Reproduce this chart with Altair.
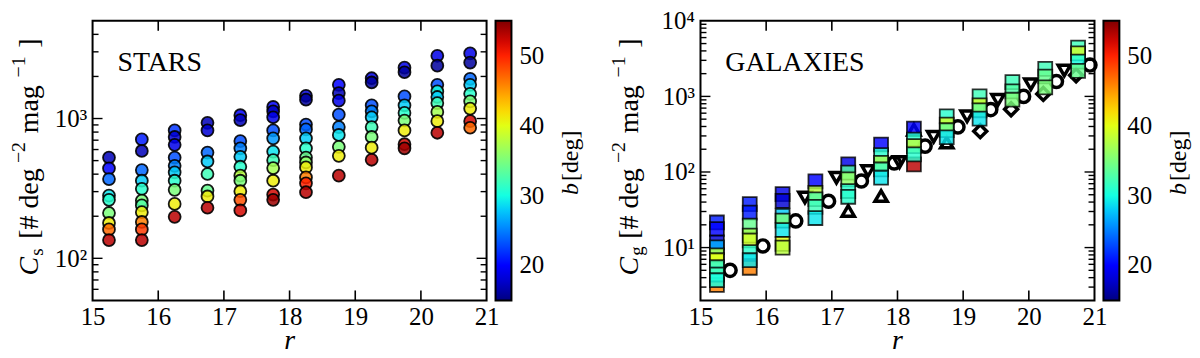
import altair as alt
import pandas as pd

FONT = "Liberation Serif"

# ---------------- data ----------------
r_bins = [15.25, 15.75, 16.25, 16.75, 17.25, 17.75, 18.25, 18.75, 19.25, 19.75, 20.25, 20.75]

stars_C = [
    [526, 440, 369, 281, 262, 211, 179, 161, 135],
    [709, 586, 428, 359, 314, 259, 239, 214, 182, 161, 135],
    [822, 738, 648, 526, 459, 412, 359, 309, 245, 198],
    [931, 822, 571, 493, 401, 305, 277, 230],
    [1056, 973, 690, 612, 532, 452, 390, 359, 302, 262, 220],
    [1210, 1127, 1021, 822, 722, 580, 504, 442, 359, 286, 262],
    [1455, 1364, 906, 836, 722, 612, 526, 485, 447, 379, 344, 297],
    [1742, 1520, 1342, 1067, 868, 763, 627, 541, 390],
    [1942, 1811, 1244, 1127, 1021, 868, 738, 619, 507],
    [2312, 2143, 1440, 1244, 1097, 968, 822, 655, 612],
    [2812, 2388, 1742, 1563, 1426, 1291, 1115, 957, 791],
    [2924, 2512, 1923, 1742, 1503, 1327, 1178, 957, 859],
]
stars_b = [
    [17, 20, 24, 29, 31, 35, 41, 47, 53],
    [21, 17, 24, 28, 31, 35, 33, 41, 46, 49, 53],
    [22, 18, 19, 23, 25, 28, 31, 35, 41, 53],
    [17, 18, 24, 28, 32, 34, 41, 53],
    [20, 17, 23, 25, 28, 31, 38, 35, 41, 48, 52],
    [20, 17, 19, 23, 26, 29, 32, 37, 41, 52, 54],
    [18, 16, 23, 24, 28, 31, 34, 36, 41, 46, 50, 53],
    [20, 17, 19, 23, 25, 29, 35, 41, 53],
    [19, 16, 23, 25, 28, 32, 35, 41, 53],
    [19, 16, 23, 28, 31, 35, 41, 52, 54],
    [19, 16, 23, 30, 28, 32, 37, 41, 53],
    [19, 16, 24, 28, 31, 35, 41, 52, 47],
]

gal_C = [
    [3.2, 21.5, 17.6, 11.7, 10.1, 7.9, 6.8, 5.5, 4.4, 3.7],
    [5.4, 37.6, 29, 19.5, 14.4, 12.4, 8.7, 6.8],
    [51, 41.5, 26.4, 22.7, 17, 11.2, 10],
    [75, 53, 43.6, 34.6, 24.6],
    [126, 98, 80, 56, 47],
    [231, 167, 132, 108, 84],
    [126, 375, 269, 220, 171],
    [546, 424, 357, 288],
    [1000, 762, 655, 508],
    [1545, 1164, 904],
    [2312, 1834, 1314],
    [4414, 3715, 2884, 2179],
]
gal_b = [
    [46, 21, 20, 18, 27, 38, 40, 31, 32, 30],
    [46, 21, 21, 34, 37, 39, 31, 29],
    [19, 18, 28, 35, 29, 40, 38],
    [20, 38, 33, 32, 29],
    [19, 33, 36, 31, 31],
    [20, 31, 37, 32, 29],
    [53, 20, 31, 38, 31],
    [31, 39, 34, 29],
    [32, 39, 34, 29],
    [32, 33, 35],
    [32, 34, 35],
    [32, 39, 30, 34],
]

lit_circle_r = [15.45, 15.95, 16.45, 16.95, 17.45, 17.95, 18.42, 18.92, 19.42, 19.92, 20.42, 20.93]
lit_circle_C = [5.0, 10.5, 22.5, 41, 76, 132, 220, 395, 670, 1000, 1575, 2600]
lit_tdown_r = [16.59, 17.07, 17.55, 18.03, 18.55, 19.06, 19.53, 20.03, 20.54]
lit_tdown_C = [46, 84, 103, 135, 293, 545, 900, 1450, 2200]
lit_tup_r = [17.25, 17.75, 18.25, 18.75]
lit_tup_C = [30.5, 48, 362, 245]
lit_diam_r = [19.26, 19.73, 20.22, 20.72]
lit_diam_C = [347, 675, 1080, 1900]

x_major = [16, 17, 18, 19, 20]
x_labels = [15, 16, 17, 18, 19, 20, 21]
stars_y_major = [100, 1000]
stars_y_minor = [60, 70, 80, 90, 200, 300, 400, 500, 600, 700, 800, 900, 2000, 3000, 4000]
gal_y_major = [10, 100, 1000]
gal_y_minor = [3, 4, 5, 6, 7, 8, 9, 20, 30, 40, 50, 60, 70, 80, 90,
               200, 300, 400, 500, 600, 700, 800, 900, 2000, 3000, 4000, 5000, 6000, 7000, 8000, 9000]

# jet colormap sampled on the colour-bar range 15..55
jet_stops = [15, 17.5, 20, 22.5, 25, 27.5, 30, 32.5, 35, 37.5, 40, 42.5, 45, 47.5, 50, 52.5, 55]
jet_colors = ["#000080", "#0000c8", "#0000ff", "#0040ff", "#0080ff", "#00bfff", "#14ffe2",
              "#48ffaf", "#7bff7b", "#afff48", "#e2ff14", "#ffd200", "#ff9700", "#ff5c00",
              "#ff2100", "#c80000", "#800000"]

# ---------------- frames ----------------
stars_df = pd.DataFrame({
    "r": [r_bins[i] for i, col in enumerate(stars_C) for _ in col],
    "C": [v for col in stars_C for v in col],
    "b": [v for col in stars_b for v in col],
})
gal_df = pd.DataFrame({
    "r": [r_bins[i] for i, col in enumerate(gal_C) for _ in col],
    "C": [v for col in gal_C for v in col],
    "b": [v for col in gal_b for v in col],
})

W, H = 396, 281
xscale = alt.Scale(domain=[15, 21], nice=False, zero=False)
cscale = alt.Scale(domain=jet_stops, range=jet_colors, interpolate="rgb")

SUP = "{'10': '\u00b9', '100': '\u00b2', '1000': '\u00b3', '10000': '\u2074'}"


def xaxis():
    return alt.Axis(values=x_labels, format="d", ticks=False, domain=False, grid=False,
                    labelFontSize=25, labelPadding=4, labelFlush=False, labelFont=FONT,
                    labelColor="black", title=None)


def yaxis(vals):
    return alt.Axis(values=vals, ticks=False, domain=False, grid=False, labelFontSize=25,
                    labelPadding=6, labelFlush=False, labelFont=FONT, labelColor="black",
                    labelExpr="'10' + " + SUP + "[toString(datum.value)]", title=None)


def legend():
    return alt.Legend(orient="none", legendX=405, legendY=0, direction="vertical",
                      gradientLength=H, gradientThickness=16, gradientStrokeColor="black",
                      gradientStrokeWidth=2, values=[20, 30, 40, 50], labelFontSize=25,
                      labelFont=FONT, labelColor="black", labelOffset=8, title=None,
                      padding=0, labelOverlap=False)


def one():
    return pd.DataFrame({"k": [0]})


def txt(t, x, y, size, style="normal", angle=0, align="left", baseline="alphabetic"):
    return alt.Chart(one()).mark_text(text=t, font=FONT, fontSize=size, fontStyle=style,
                                      angle=angle, align=align, baseline=baseline,
                                      color="black").encode(x=alt.value(x), y=alt.value(y))


TICK_COLOR = "black"


def tick_layers(ysc, yax, ymaj, ymin):
    """Inward ticks on all four sides of the frame (matplotlib classic style)."""
    layers = []
    xd = pd.DataFrame({"tx": x_major})
    for y0, y1 in [(H, H - 10), (0, 10)]:
        # segment rule: x and x2 from the same field, y / y2 in pixels
        layers.append(alt.Chart(xd).mark_rule(color=TICK_COLOR, strokeWidth=1.6).encode(
            x=alt.X("tx:Q", scale=xscale, axis=xaxis()), x2="tx:Q",
            y=alt.value(y0), y2=alt.value(y1)))
    for vals, L in [(ymaj, 10), (ymin, 6)]:
        yd = pd.DataFrame({"ty": vals})
        for x0, x1 in [(0, L), (W, W - L)]:
            layers.append(alt.Chart(yd).mark_rule(color=TICK_COLOR, strokeWidth=1.4).encode(
                y=alt.Y("ty:Q", scale=ysc, axis=yax),
                x=alt.value(x0), x2=alt.value(x1)))
    return layers


def ytitle(sub, base_x):
    sx = base_x - 13
    return [
        txt("C", base_x, 256, 28, "italic", 270),
        txt(sub, base_x + 5, 236, 19, "normal", 270),
        txt("[# deg", base_x, 219, 28, "normal", 270),
        txt("\u22122", sx, 143, 20, "normal", 270),
        txt("mag", base_x, 113, 28, "normal", 270),
        txt("\u22121", sx, 57, 20, "normal", 270),
        txt("]", base_x, 27, 28, "normal", 270),
    ]


# ---------------- left panel: stars ----------------
ys_scale = alt.Scale(type="log", domain=[50, 5000], nice=False)
ys_axis = yaxis(stars_y_major)
stars = alt.Chart(stars_df).mark_circle(size=144, stroke="black", strokeWidth=1.8,
                                        fillOpacity=0.85, strokeOpacity=0.9).encode(
    x=alt.X("r:Q", scale=xscale, axis=xaxis()),
    y=alt.Y("C:Q", scale=ys_scale, axis=ys_axis),
    color=alt.Color("b:Q", scale=cscale, legend=legend()),
)
left = alt.layer(
    stars,
    *tick_layers(ys_scale, ys_axis, stars_y_major, stars_y_minor),
    txt("STARS", 25, 50, 28),
    txt("r", W / 2, 330, 28, "italic", 0, "center"),
    *ytitle("s", -55),
    txt("b", 488, 175, 24, "italic", 270),
    txt("[deg]", 488, 161, 24, "normal", 270),
).properties(width=W, height=H)

# ---------------- right panel: galaxies ----------------
yg_scale = alt.Scale(type="log", domain=[2, 10000], nice=False)
yg_axis = yaxis([10, 100, 1000, 10000])
lit_style = dict(filled=False, stroke="black", strokeWidth=3.5, opacity=1)
circ = alt.Chart(pd.DataFrame({"r": lit_circle_r, "C": lit_circle_C})).mark_point(
    shape="circle", size=150, **lit_style).encode(
    x=alt.X("r:Q", scale=xscale, axis=xaxis()), y=alt.Y("C:Q", scale=yg_scale, axis=yg_axis))
tdown = alt.Chart(pd.DataFrame({"r": lit_tdown_r, "C": lit_tdown_C})).mark_point(
    shape="triangle-down", size=150, **lit_style).encode(
    x=alt.X("r:Q", scale=xscale, axis=xaxis()), y=alt.Y("C:Q", scale=yg_scale, axis=yg_axis))
tup = alt.Chart(pd.DataFrame({"r": lit_tup_r, "C": lit_tup_C})).mark_point(
    shape="triangle-up", size=150, **lit_style).encode(
    x=alt.X("r:Q", scale=xscale, axis=xaxis()), y=alt.Y("C:Q", scale=yg_scale, axis=yg_axis))
diam = alt.Chart(pd.DataFrame({"r": lit_diam_r, "C": lit_diam_C})).mark_point(
    shape="diamond", size=170, **lit_style).encode(
    x=alt.X("r:Q", scale=xscale, axis=xaxis()), y=alt.Y("C:Q", scale=yg_scale, axis=yg_axis))
gal = alt.Chart(gal_df).mark_square(size=196, stroke="black", strokeWidth=1.8,
                                    fillOpacity=0.82, strokeOpacity=0.8).encode(
    x=alt.X("r:Q", scale=xscale, axis=xaxis()),
    y=alt.Y("C:Q", scale=yg_scale, axis=yg_axis),
    color=alt.Color("b:Q", scale=cscale, legend=legend()),
)
right = alt.layer(
    circ, tdown, tup, diam, gal,
    *tick_layers(yg_scale, yg_axis, gal_y_major, gal_y_minor),
    txt("GALAXIES", 25, 50, 28),
    txt("r", W / 2, 330, 28, "italic", 0, "center"),
    *ytitle("g", -63),
    txt("b", 488, 175, 24, "italic", 270),
    txt("[deg]", 488, 161, 24, "normal", 270),
).properties(width=W, height=H)

chart = alt.hconcat(left, right, spacing=215, bounds="flush").resolve_scale(
    color="independent"
).configure_view(stroke="black", strokeWidth=2).configure_axis(
    labelFont=FONT, labelColor="black"
).configure_legend(labelFont=FONT, labelColor="black").configure_text(font=FONT).properties(
    padding={"left": 0, "top": -1, "right": 0, "bottom": 0})

chart.save("out.html", embed_options={"renderer": "svg", "actions": False})
